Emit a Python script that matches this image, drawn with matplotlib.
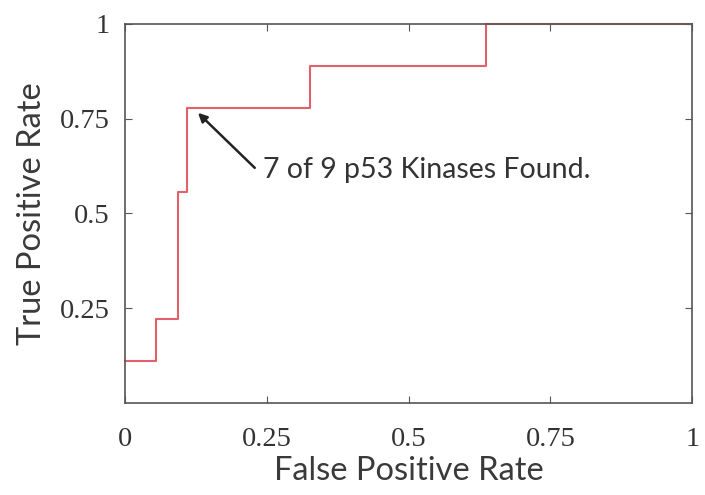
import matplotlib
matplotlib.use("Agg")
import matplotlib.pyplot as plt

# ROC curve values
fpr = [0.0, 0.055, 0.093, 0.110, 0.327, 0.637, 1.0]
tpr = [0.111, 0.222, 0.556, 0.778, 0.889, 1.0, 1.0]

x_ticks = [0, 0.25, 0.5, 0.75, 1]
x_labels = ["0", "0.25", "0.5", "0.75", "1"]
y_ticks = [0.25, 0.5, 0.75, 1]
y_labels = ["0.25", "0.5", "0.75", "1"]

note_text = "7 of 9 p53 Kinases Found."
arrow_tip = (0.129, 0.765)
arrow_tail = (0.229, 0.620)
text_pos = (0.243, 0.594)

fig = plt.figure(figsize=(7.05, 4.95), dpi=100)
ax = fig.add_axes([0.177, 0.186, 0.805, 0.766])

ax.step(fpr, tpr, where="post", color="#e2606a", linewidth=1.5, clip_on=False)

ax.set_xlim(0, 1)
ax.set_ylim(0, 1)
ax.set_xticks(x_ticks)
ax.set_xticklabels(x_labels, family="Liberation Serif", fontsize=20.5, color="#333333")
ax.set_yticks(y_ticks)
ax.set_yticklabels(y_labels, family="Liberation Serif", fontsize=20.5, color="#333333")
ax.tick_params(direction="in", top=True, right=True, length=5, color="#555555")
ax.tick_params(axis="x", pad=17)
ax.tick_params(axis="y", pad=11)
for s in ax.spines.values():
    s.set_color("#555555")
    s.set_linewidth(1.2)

ax.set_xlabel("False Positive Rate", family="Lato", fontsize=23.5, labelpad=3, color="#3a3a3a")
ax.set_ylabel("True Positive Rate", family="Lato", fontsize=23.5, labelpad=9, color="#3a3a3a")

# arrow and note drawn separately so the arrow starts left of the text
ax.annotate("", xy=arrow_tip, xytext=arrow_tail,
            arrowprops=dict(arrowstyle="-|>", color="#222222", lw=1.8,
                            mutation_scale=13, shrinkA=0, shrinkB=0))
ax.text(text_pos[0], text_pos[1], note_text, fontsize=20.5, family="Lato",
        color="#333333", va="baseline", ha="left")

fig.savefig("out.png", dpi=100)
